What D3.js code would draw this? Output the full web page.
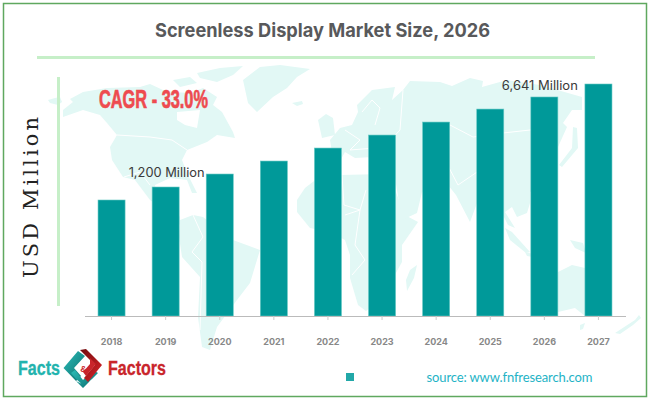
<!DOCTYPE html>
<html>
<head>
<meta charset="utf-8">
<script src="https://cdn.jsdelivr.net/npm/d3@7"></script>
<style>
html, body { margin: 0; padding: 0; background: #fff; }
svg { display: block; }
</style>
</head>
<body>
<svg id="chart" width="650" height="400"></svg>
<script>
// bars carry no axis in the picture, so heights are read as percent of the tallest bar
var years = ["2018", "2019", "2020", "2021", "2022", "2023", "2024", "2025", "2026", "2027"];
var barIndex = [50, 55.6, 61.2, 66.8, 72.4, 78, 83.6, 89.2, 94.4, 100];
var calloutYears = ["2019", "2026"];
var calloutLabels = ["1,200 Million", "6,641 Million"];
var calloutShift = [[1, -10], [-4.5, -7]];

// faint world map behind the bars, rough outlines only
var mapLand = [
	// chukotka tip
	[[48,100],[55,98],[60,97],[62,102],[58,105],[50,103]],
	// north america
	[[63,117],[63,110],[73,102],[70,99],[83,92],[107,88],[140,87],[150,84],[163,90],[173,92],[190,93],[203,88],[217,97],[213,105],[222,112],[233,132],[235,138],[217,135],[207,142],[187,150],[182,160],[187,173],[197,193],[192,193],[187,180],[170,178],[155,185],[157,197],[167,200],[173,197],[173,207],[180,217],[180,225],[165,210],[150,200],[135,180],[123,177],[112,160],[110,147],[117,135],[107,123],[100,115],[83,110]],
	// arctic islands
	[[197,73],[220,68],[243,66],[233,75],[217,82],[200,78]],
	[[173,80],[190,77],[197,83],[180,87]],
	// greenland
	[[243,80],[260,67],[280,65],[310,69],[297,77],[287,88],[273,97],[257,112],[248,103]],
	// iceland
	[[292,103],[302,101],[303,104],[297,106]],
	// britain and ireland
	[[318,120],[326,114],[333,118],[335,135],[322,138]],
	// south america
	[[193,215],[203,217],[233,240],[260,250],[250,283],[237,300],[217,327],[210,350],[202,347],[198,317],[200,277],[182,257],[179,237],[180,220]],
	// africa
	[[297,200],[297,212],[310,228],[330,232],[345,240],[350,255],[350,278],[358,305],[366,311],[380,300],[392,280],[402,262],[402,245],[418,222],[405,215],[395,190],[385,174],[340,175],[318,178],[305,188]],
	// eurasia
	[[315,174],[320,158],[332,152],[330,140],[340,128],[352,125],[358,112],[357,105],[372,90],[395,87],[392,100],[403,90],[410,81],[440,82],[452,86],[470,78],[483,81],[482,87],[507,80],[540,85],[582,97],[582,110],[572,110],[563,123],[567,127],[558,147],[557,163],[547,183],[530,192],[530,203],[527,213],[517,217],[512,207],[505,212],[515,228],[508,225],[498,205],[490,200],[480,195],[470,222],[456,195],[448,185],[435,188],[422,192],[417,213],[402,220],[395,178],[375,172],[373,157],[355,158],[345,152],[335,170]],
	// japan
	[[573,127],[577,128],[578,148],[562,167],[559,165],[572,148]],
	// madagascar
	[[417,265],[414,278],[407,291],[406,280],[410,270]],
	// sumatra and java
	[[505,228],[512,232],[530,252],[526,253],[510,240]],
	[[525,252],[545,257],[545,259],[527,256]],
	// new guinea
	[[570,240],[583,243],[586,253],[575,248]],
	// australia
	[[558,272],[572,265],[585,268],[612,290],[612,312],[585,316],[575,308],[558,312]],
	// tasmania and new zealand
	[[580,325],[585,323],[583,329],[580,330]],
	[[615,333],[635,320],[639,315],[641,318],[633,325],[620,334]]
];
var mapWater = [
	[[177,112],[200,110],[197,128],[185,125],[177,120]],
	[[423,140],[432,138],[436,152],[426,156]]
];
var mapBorders = [
	[[117,135],[150,137],[172,140],[187,150]],
	[[124,177],[140,172],[150,185]],
	[[193,215],[203,237],[192,252],[202,262],[200,330]],
	[[450,125],[473,137],[503,133],[530,130],[558,126]],
	[[403,90],[400,130],[375,157]],
	[[345,215],[360,210],[355,245],[365,260],[352,275]],
	[[425,150],[445,160],[458,185],[480,170]],
	[[345,130],[360,140],[350,150],[375,148]],
	[[362,112],[372,100],[380,108],[375,125]],
	[[342,175],[344,205],[360,210],[366,190]]
];

var svg = d3.select("#chart");

// frame
svg.append("rect").attr("x", 3.5).attr("y", 3.5).attr("width", 643).attr("height", 393)
	.attr("fill", "#fff").attr("stroke", "#5fa85f").attr("stroke-width", 1.5);

// map
var mapLine = d3.line().curve(d3.curveLinearClosed);
var mapGroup = svg.append("g");
mapGroup.selectAll(".land").data(mapLand).enter().append("path")
	.attr("class", "land").attr("d", mapLine).attr("fill", "#e2f8f5");
mapGroup.selectAll(".water").data(mapWater).enter().append("path")
	.attr("class", "water").attr("d", mapLine).attr("fill", "#fff");
mapGroup.selectAll(".border").data(mapBorders).enter().append("path")
	.attr("class", "border").attr("d", d3.line()).attr("fill", "none")
	.attr("stroke", "#fff").attr("stroke-width", 1);

// title and rules
svg.append("text").attr("x", 322.5).attr("y", 37).attr("text-anchor", "middle")
	.attr("font-family", "Inter").attr("font-weight", 700).attr("font-size", 19)
	.attr("textLength", 335).attr("lengthAdjust", "spacingAndGlyphs")
	.attr("fill", "#58595b").text("Screenless Display Market Size, 2026");
svg.append("line").attr("x1", 37).attr("x2", 595).attr("y1", 57.5).attr("y2", 57.5)
	.attr("stroke", "#c6efc8").attr("stroke-width", 3);
svg.append("line").attr("x1", 58.5).attr("x2", 58.5).attr("y1", 77).attr("y2", 306)
	.attr("stroke", "#c6efc8").attr("stroke-width", 3);

// scales
var x = d3.scaleBand().domain(years).range([84.5, 625.5]).paddingInner(0.5).paddingOuter(0.25);
var y = d3.scaleLinear().domain([0, 100]).range([316, 84]);

// bars
svg.selectAll(".bar").data(barIndex).enter().append("rect")
	.attr("class", "bar")
	.attr("x", function(d, i){ return x(years[i]); })
	.attr("y", function(d){ return y(d); })
	.attr("width", x.bandwidth())
	.attr("height", function(d){ return y(0) - y(d); })
	.attr("fill", "#009999").attr("stroke", "#66c9c4").attr("stroke-width", 0.6);

// axis
var xAxis = svg.append("g").attr("transform", "translate(0,316)")
	.call(d3.axisBottom(x).tickSize(4).tickPadding(19).tickSizeOuter(0));
xAxis.select(".domain").attr("stroke", "#bbb").attr("stroke-width", 1);
xAxis.selectAll(".tick line").attr("stroke", "#ccc");
xAxis.selectAll("text").attr("font-family", "Inter").attr("font-weight", 700)
	.attr("font-size", 9).attr("fill", "#888");

// callouts
svg.selectAll(".callout").data(calloutLabels).enter().append("text")
	.attr("class", "callout")
	.attr("x", function(d, i){ return x(calloutYears[i]) + x.bandwidth() / 2 + calloutShift[i][0]; })
	.attr("y", function(d, i){ return y(barIndex[years.indexOf(calloutYears[i])]) + calloutShift[i][1]; })
	.attr("text-anchor", "middle").attr("font-family", "Inter").attr("font-size", 12.5)
	.attr("textLength", 76).attr("lengthAdjust", "spacingAndGlyphs")
	.attr("fill", "#3a3a3a").text(function(d){ return d; });

// CAGR note
svg.append("text").attr("x", 99).attr("y", 108)
	.attr("font-family", "Liberation Sans").attr("font-weight", 700).attr("font-size", 25)
	.attr("textLength", 109).attr("lengthAdjust", "spacingAndGlyphs")
	.attr("fill", "#ee4b4f").attr("stroke", "#ee4b4f").attr("stroke-width", 0.7)
	.text("CAGR - 33.0%");

// y title
svg.append("text").attr("transform", "translate(38,278) rotate(-90)")
	.attr("font-family", "DejaVu Serif").attr("font-size", 21)
	.attr("textLength", 161).attr("fill", "#222").text("USD Million");

// legend swatch and source
svg.append("rect").attr("x", 346).attr("y", 373).attr("width", 8).attr("height", 8).attr("fill", "#22a8a8");
svg.append("text").attr("x", 426.5).attr("y", 382)
	.attr("font-family", "Lato").attr("font-size", 13)
	.attr("textLength", 166).attr("fill", "#1eb3c6").text("source: www.fnfresearch.com");

// logo
var logo = svg.append("g");
var defs = svg.append("defs");
var tealGrad = defs.append("linearGradient").attr("id", "tealGrad").attr("x1", 0).attr("y1", 0).attr("x2", 1).attr("y2", 1);
tealGrad.append("stop").attr("offset", "0%").attr("stop-color", "#2bbdb8");
tealGrad.append("stop").attr("offset", "100%").attr("stop-color", "#0b6d6d");
var redGrad = defs.append("linearGradient").attr("id", "redGrad").attr("x1", 0).attr("y1", 0).attr("x2", 1).attr("y2", 1);
redGrad.append("stop").attr("offset", "0%").attr("stop-color", "#6d0a0c");
redGrad.append("stop").attr("offset", "100%").attr("stop-color", "#e2262c");
logo.append("path").attr("d", "M63.5 368 L78 351 L85 356 L74 368 L81 376 L76 381 Z").attr("fill", "url(#tealGrad)");
logo.append("path").attr("d", "M71 373 L76 379 L84 386 L92 379 L98 373 L93 370 L83 380 L75 370 Z M76 381 L83 388 L90 381 L84 385 Z").attr("fill", "url(#tealGrad)");
logo.append("path").attr("d", "M80 350 L86 349 L102 365 L88 382 L84 378 L95 365 L84 354 Z").attr("fill", "url(#redGrad)");
logo.append("path").attr("d", "M90 358 L96 364 L86 376 L83 372 L90 364 Z").attr("fill", "#c9252b");
logo.append("text").attr("x", 83.5).attr("y", 372).attr("text-anchor", "middle")
	.attr("font-family", "Liberation Sans").attr("font-weight", 700).attr("font-size", 9)
	.attr("fill", "#c9252b").text("&");
logo.append("text").attr("x", 18).attr("y", 375)
	.attr("font-family", "Liberation Sans").attr("font-weight", 700).attr("font-size", 20)
	.attr("textLength", 42).attr("lengthAdjust", "spacingAndGlyphs")
	.attr("fill", "#22b3ae").attr("stroke", "#22b3ae").attr("stroke-width", 0.3).text("Facts");
logo.append("text").attr("x", 108).attr("y", 375)
	.attr("font-family", "Liberation Sans").attr("font-weight", 700).attr("font-size", 20)
	.attr("textLength", 58).attr("lengthAdjust", "spacingAndGlyphs")
	.attr("fill", "#c9252b").attr("stroke", "#c9252b").attr("stroke-width", 0.3).text("Factors");
</script>
</body>
</html>
